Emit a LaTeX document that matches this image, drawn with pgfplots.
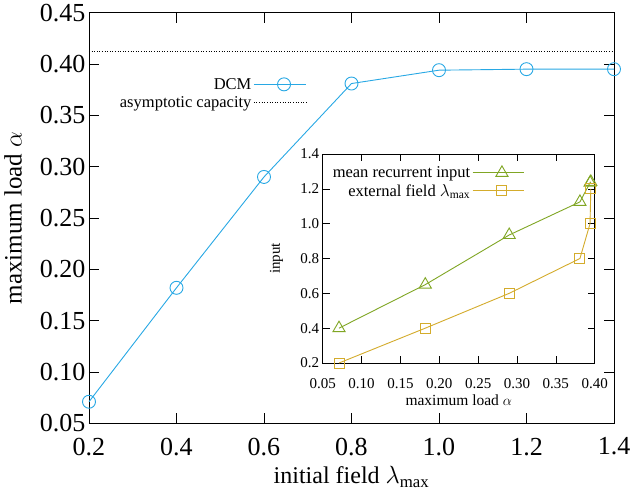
\documentclass[border=0pt]{standalone}
\usepackage{pgfplots}
\pgfplotsset{compat=1.18}
\usepackage{fontspec}
\setmainfont{Liberation Serif}
\definecolor{dcm}{RGB}{40,168,228}
\definecolor{grn}{RGB}{128,166,36}
\definecolor{gld}{RGB}{212,172,44}
\begin{document}
\begin{tikzpicture}
\begin{axis}[
  at={(0pt,0pt)}, anchor=south west,
  scale only axis, width=525pt, height=410.6pt,
  xmin=0.2, xmax=1.4, ymin=0.05, ymax=0.45,
  xtick={0.2,0.4,...,1.41}, ytick={0.05,0.10,...,0.451},
  tick align=inside, major tick length=10pt,
  tick style={black, line width=0.6pt},
  axis line style={line width=0.6pt},
  /pgf/number format/assume math mode=true,
  xticklabel style={/pgf/number format/.cd, fixed, fixed zerofill, precision=1, /tikz/.cd, yshift=-11pt},
  yticklabel style={/pgf/number format/.cd, fixed, fixed zerofill, precision=2},
  ticklabel style={font=\fontsize{26}{28}\selectfont},
  xlabel={initial field $\lambda_{\mathrm{max}}$},
  ylabel={maximum load $\alpha$},
  every axis x label/.style={at={(axis description cs:0.5,-0.1461)}, anchor=base, font=\fontsize{24}{26}\selectfont},
  every axis y label/.style={at={(axis description cs:-0.1282,0.5)}, anchor=base, rotate=90, font=\fontsize{25}{27}\selectfont},
  clip=false,
  legend style={draw=none, fill=none, font=\fontsize{16.5}{18}\selectfont,
    at={(0.415,0.846)}, anchor=north east, row sep=2pt, inner sep=0pt},
  legend cell align=right, legend plot pos=right,
  legend image code/.code={\path (0cm,0cm) -- (0.28cm,0cm);\draw[mark repeat=2,mark phase=2,#1] plot coordinates {(0.28cm,0cm) (1.06cm,0cm) (1.84cm,0cm)};},
]
\addplot[color=dcm, line width=0.9pt, mark=o, mark size=6.5pt, mark options={line width=0.9pt}]
  coordinates {(0.2,0.071) (0.4,0.182) (0.6,0.290) (0.8,0.381) (1.0,0.394) (1.2,0.395) (1.4,0.395)};
\addlegendentry{DCM}
\addplot[black, dotted, line width=0.6pt] coordinates {(0.2,0.4125) (1.4,0.4125)};
\addlegendentry{asymptotic capacity}
\end{axis}
\begin{axis}[
  at={(233.7pt,60.3pt)}, anchor=south west,
  scale only axis, width=272pt, height=209pt,
  xmin=0.05, xmax=0.40, ymin=0.2, ymax=1.4,
  xtick={0.05,0.10,...,0.401}, ytick={0.2,0.4,...,1.41},
  tick align=inside, major tick length=7pt,
  tick style={black, line width=0.5pt},
  axis line style={line width=0.5pt},
  axis background/.style={fill=white},
  /pgf/number format/assume math mode=true,
  xticklabel style={/pgf/number format/.cd, fixed, fixed zerofill, precision=2, /tikz/.cd, yshift=-12pt},
  yticklabel style={/pgf/number format/.cd, fixed, fixed zerofill, precision=1},
  ticklabel style={font=\fontsize{15}{17}\selectfont},
  xlabel={maximum load $\alpha$},
  ylabel={input},
  every axis x label/.style={at={(axis description cs:0.5,-0.201)}, anchor=base, font=\fontsize{15.5}{17}\selectfont},
  every axis y label/.style={at={(axis description cs:-0.157,0.5)}, anchor=base, rotate=90, font=\fontsize{15}{17}\selectfont},
  clip=false,
  legend style={draw=none, fill=none, font=\fontsize{16.5}{18}\selectfont,
    at={(0.743,0.95)}, anchor=north east, row sep=1pt, inner sep=0pt},
  legend cell align=right, legend plot pos=right,
  legend image code/.code={\path (0cm,0cm) -- (0.25cm,0cm);\draw[mark repeat=2,mark phase=2,#1] plot coordinates {(0.25cm,0cm) (1.03cm,0cm) (1.81cm,0cm)};},
]
\addplot[color=grn, line width=0.9pt, mark=triangle, mark size=7pt, mark options={line width=0.9pt}]
  coordinates {(0.071,0.40) (0.182,0.65) (0.290,0.935) (0.381,1.125) (0.394,1.235) (0.395,1.24)};
\addlegendentry{mean recurrent input}
\addplot[color=gld, line width=0.9pt, mark=square, mark size=5pt, mark options={line width=0.9pt}]
  coordinates {(0.071,0.2) (0.182,0.4) (0.290,0.6) (0.381,0.8) (0.394,1.0) (0.395,1.2)};
\addlegendentry{external field $\lambda_{\mathrm{max}}$}
\end{axis}
\pgfresetboundingbox
\path[use as bounding box] (-89pt,-75.7pt) rectangle (541pt,423.3pt);
\end{tikzpicture}
\end{document}
